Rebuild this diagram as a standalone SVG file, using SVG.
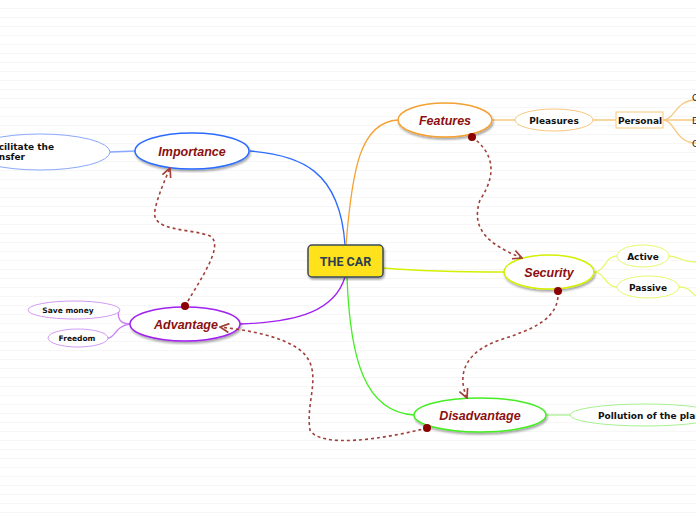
<svg xmlns="http://www.w3.org/2000/svg" width="696" height="520" viewBox="0 0 696 520">
<defs>
<pattern id="bg" width="10" height="9" patternUnits="userSpaceOnUse"><rect width="10" height="9" fill="#fff"/><line x1="0" y1="8.5" x2="10" y2="8.5" stroke="#f6f6f6"/></pattern>
<marker id="arr" viewBox="0 0 10 10" refX="9" refY="5" markerWidth="7" markerHeight="7" orient="auto"><path d="M1,1 L9,5 L1,9" fill="none" stroke="#a0403a" stroke-width="1.5"/></marker>
<marker id="dot" viewBox="0 0 10 10" refX="5" refY="5" markerWidth="5" markerHeight="5"><circle cx="5" cy="5" r="5" fill="#8b0000"/></marker>
<filter id="sh"><feDropShadow dx="1" dy="2" stdDeviation="1" flood-color="#000" flood-opacity="0.35"/></filter>
</defs>
<style>
.main{font-family:"Liberation Sans",Arial,sans-serif;font-size:12.5px;font-weight:bold;font-style:italic;fill:#8b1010;text-anchor:middle}
.sub{font-family:"DejaVu Sans",Verdana,sans-serif;font-size:9px;font-weight:bold;fill:#111;text-anchor:middle}
.sm{font-family:"DejaVu Sans",Verdana,sans-serif;font-size:7.5px;font-weight:bold;fill:#111;text-anchor:middle}
.rel{fill:none;stroke:#a0403a;stroke-width:1.6;stroke-dasharray:3,3}
.c{fill:none;stroke-width:1.3}
</style>
<rect width="696" height="520" fill="url(#bg)"/>
<g id="connectors">
<path class="c" stroke="#2b6bff" d="M345,245 C340,170 300,155 250,151"/>
<path class="c" stroke="#f5a030" d="M346,245 C352,170 360,122 398,120"/>
<path class="c" stroke="#a020f0" d="M345,277 C335,310 300,322 240,324"/>
<path class="c" stroke="#44ee22" d="M347,277 C350,360 365,412 414,415"/>
<path class="c" stroke="#d4f000" d="M383,268 C420,271 460,272 504,272"/>
<path class="c" stroke="#8aa8ff" d="M110,152 L135,151"/>
<path class="c" stroke="#c880f0" stroke-width="0.8" d="M130,324 C115,324 118,310 120,310 M130,324 C115,326 115,338 108,338"/>
<path class="c" stroke="#f8c880" stroke-width="0.8" d="M492,120 L515,120 M593,120 L616,120 M663,120 C675,120 675,100 696,100 M663,120 L696,120 M663,120 C675,120 675,143 696,143"/>
<path class="c" stroke="#e8f870" stroke-width="0.8" d="M594,272 C605,272 605,256 617,256 M594,272 C605,272 605,287 617,287 M669,256 C680,256 680,262 696,262 M679,287 C690,287 690,292 696,296"/>
<path class="c" stroke="#a8f090" stroke-width="0.8" d="M546,415 L570,415"/>
</g>
<g id="center"><rect x="308" y="245" width="75" height="32" rx="4" fill="#ffe11a" stroke="#3a4a5a" stroke-width="1.5" filter="url(#sh)"/><text x="345.5" y="265.5" font-family="Roboto,'Liberation Sans',sans-serif" font-size="12.5" font-weight="bold" fill="#2d3e50" text-anchor="middle">THE CAR</text></g>
<g id="importance"><ellipse cx="192" cy="151" rx="57" ry="18" fill="#fff" stroke="#2b6bff" stroke-width="1.5" filter="url(#sh)"/><text class="main" x="192" y="155.5">Importance</text></g>
<g id="facilitate"><ellipse cx="40" cy="152" rx="70" ry="18" fill="#fff" stroke="#8aa8ff"/><text class="sub" x="-13" y="150" style="text-anchor:start">Facilitate the</text><text class="sub" x="-16" y="160" style="text-anchor:start">transfer</text></g>
<g id="advantage"><ellipse cx="185" cy="324" rx="55" ry="17" fill="#fff" stroke="#a020f0" stroke-width="1.5" filter="url(#sh)"/><text class="main" x="186" y="328.5">Advantage</text></g>
<g id="savemoney"><ellipse cx="74" cy="310" rx="46" ry="9" fill="#fff" stroke="#c880f0" stroke-width="0.8"/><text class="sm" x="68" y="313">Save money</text></g>
<g id="freedom"><ellipse cx="78" cy="338" rx="30" ry="9" fill="#fff" stroke="#c880f0" stroke-width="0.8"/><text class="sm" x="77" y="341">Freedom</text></g>
<g id="features"><ellipse cx="445" cy="120" rx="47" ry="17" fill="#fff" stroke="#f5a030" stroke-width="1.5" filter="url(#sh)"/><text class="main" x="445" y="124.5">Features</text></g>
<g id="pleasures"><ellipse cx="554" cy="120" rx="39" ry="11" fill="#fff" stroke="#f8c880"/><text class="sub" x="554" y="123.5">Pleasures</text></g>
<g id="personal"><rect x="616" y="112" width="47" height="16" fill="#fff" stroke="#f8c880"/><text class="sub" x="640" y="124">Personal</text></g>
<g id="leaves"><text x="692" y="101" font-family="'DejaVu Sans',sans-serif" font-size="9" fill="#222">C</text><text x="692" y="124" font-family="'DejaVu Sans',sans-serif" font-size="9" fill="#222">D</text><text x="692" y="147" font-family="'DejaVu Sans',sans-serif" font-size="9" fill="#222">C</text></g>
<g id="security"><ellipse cx="549" cy="272" rx="45" ry="17" fill="#fff" stroke="#d4f000" stroke-width="1.5" filter="url(#sh)"/><text class="main" x="549" y="276.5">Security</text></g>
<g id="active"><ellipse cx="643" cy="256" rx="26" ry="11" fill="#fff" stroke="#e8f870"/><text class="sub" x="643" y="259.5">Active</text></g>
<g id="passive"><ellipse cx="648" cy="287" rx="31" ry="11" fill="#fff" stroke="#e8f870"/><text class="sub" x="648" y="290.5">Passive</text></g>
<g id="disadvantage"><ellipse cx="480" cy="415" rx="66" ry="17" fill="#fff" stroke="#44ee22" stroke-width="1.5" filter="url(#sh)"/><text class="main" x="480" y="419.5">Disadvantage</text></g>
<g id="pollution"><ellipse cx="645" cy="415" rx="75" ry="11" fill="#fff" stroke="#a8f090"/><text class="sub" x="598" y="418.5" style="text-anchor:start">Pollution of the planet</text></g>
<g id="relations">
<path class="rel" marker-start="url(#dot)" marker-end="url(#arr)" d="M185,306 C200,280 225,245 210,236 C190,228 150,232 155,210 C158,195 165,180 170,168"/>
<path class="rel" marker-start="url(#dot)" marker-end="url(#arr)" d="M472,137 C490,150 500,170 480,200 C470,230 490,245 522,258"/>
<path class="rel" marker-start="url(#dot)" marker-end="url(#arr)" d="M558,291 C560,320 530,330 500,340 C470,350 455,370 467,398"/>
<path class="rel" marker-start="url(#dot)" marker-end="url(#arr)" d="M427,428 C380,440 320,448 310,430 C305,400 325,370 300,350 C280,335 245,330 220,327"/>
</g>
</svg>
